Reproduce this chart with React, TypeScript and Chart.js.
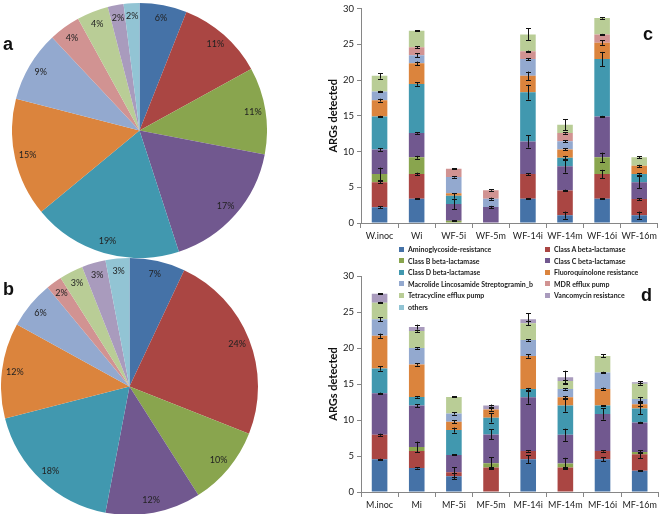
import React, { useEffect, useRef } from "react";
import { Chart, registerables } from "chart.js";

Chart.register(...registerables);
Chart.defaults.font.family = "Lato, 'Liberation Sans', sans-serif";

// ---------- shared ----------
const seriesNames = [
  "Aminoglycoside-resistance",
  "Class A beta-lactamase",
  "Class B beta-lactamase",
  "Class C beta-lactamase",
  "Class D beta-lactamase",
  "Fluoroquinolone resistance",
  "Macrolide Lincosamide Streptogramin_b",
  "MDR efflux pump",
  "Tetracycline efflux pump",
  "Vancomycin resistance",
  "others",
];
const seriesColors = [
  "#4572A7", "#AA4643", "#89A54E", "#71588F", "#4198AF", "#DB843D",
  "#93A9CF", "#D19392", "#B9CD96", "#A99BBD", "#92C4D4",
];

// ---------- pies (percent) ----------
const pieAValues = [6, 11, 11, 17, 19, 15, 9, 4, 4, 2, 2];
const pieBValues = [7, 24, 10, 12, 18, 12, 6, 2, 3, 3, 3];

// ---------- bar charts ----------
const categoriesC = ["W.inoc", "Wi", "WF-5i", "WF-5m", "WF-14i", "WF-14m", "WF-16i", "WF-16m"];
const categoriesD = ["M.inoc", "Mi", "MF-5i", "MF-5m", "MF-14i", "MF-14m", "MF-16i", "MF-16m"];
const yTicks = [0, 5, 10, 15, 20, 25, 30];

// chart c segment values
const cAmino = [2.2, 3.4, 0, 0, 3.4, 1.1, 3.4, 1.1];
const cClassA = [3.5, 3.45, 0, 0, 3.45, 3.45, 3.45, 2.25];
const cClassB = [1.15, 2.35, 0.3, 0, 0, 0, 2.35, 0];
const cClassC = [3.45, 3.4, 2.35, 2.25, 4.55, 3.4, 5.7, 2.35];
const cClassD = [4.6, 6.85, 1.15, 0, 6.9, 1.2, 8.05, 1.15];
const cFluoro = [2.3, 2.9, 0.35, 0, 2.3, 1.15, 2.3, 1.15];
const cMLS = [1.2, 1.15, 2.3, 1.15, 2.35, 1.15, 0, 0];
const cMDR = [0, 1.1, 1.15, 1.2, 1.1, 1.15, 1.15, 0];
const cTetra = [2.2, 2.3, 0, 0, 2.35, 1.15, 2.3, 1.2];
const cVanco = [0, 0, 0, 0, 0, 0, 0, 0];
const cOthers = [0, 0, 0, 0, 0, 0, 0, 0];

// chart c error bars (± at top of each segment)
const cAminoErr = [0.15, 0.08, 0, 0, 0.1, 0.5, 0.08, 0.5];
const cClassAErr = [0.15, 0.2, 0, 0, 0.12, 0.12, 0.6, 0.12];
const cClassBErr = [0.9, 0.2, 0.08, 0, 0, 0, 0.65, 0];
const cClassCErr = [0.2, 0.12, 0.7, 0.15, 0.85, 0.9, 0.1, 0.85];
const cClassDErr = [0.1, 0.25, 0.4, 0, 1.05, 0.25, 1.0, 0.1];
const cFluoroErr = [0.2, 0.25, 0, 0, 0.6, 0.15, 0.3, 0.15];
const cMLSErr = [0.1, 0.25, 0.1, 0.15, 0.15, 0.12, 0, 0];
const cMDRErr = [0, 0.15, 0.05, 0.1, 0.08, 0.1, 0.05, 0];
const cTetraErr = [0.4, 0.05, 0, 0, 0.85, 0.8, 0.1, 0.15];
const cVancoErr = [0, 0, 0, 0, 0, 0, 0, 0];
const cOthersErr = [0, 0, 0, 0, 0, 0, 0, 0];

// chart d segment values
const dAmino = [4.55, 3.35, 2.2, 0, 4.55, 0, 4.55, 2.95];
const dClassA = [3.4, 2.35, 0.55, 3.4, 1.15, 3.4, 1.15, 2.3];
const dClassB = [0, 0.55, 0, 0.6, 0, 0.55, 0, 0.3];
const dClassC = [5.75, 5.75, 2.4, 4.0, 7.45, 4.0, 5.15, 4.1];
const dClassD = [3.45, 1.2, 3.45, 2.3, 1.15, 4.05, 1.15, 1.95];
const dFluoro = [4.55, 4.5, 1.15, 1.15, 4.6, 1.15, 2.3, 0.6];
const dMLS = [2.3, 2.3, 1.15, 0, 2.2, 1.15, 2.3, 0.7];
const dMDR = [0, 0, 0, 0, 0, 0, 0, 0];
const dTetra = [2.3, 2.35, 2.3, 0, 2.35, 1.1, 2.3, 2.15];
const dVanco = [1.25, 0.55, 0, 0.55, 0.55, 0.55, 0, 0.2];
const dOthers = [0, 0, 0, 0, 0, 0, 0, 0];

// chart d error bars
const dAminoErr = [0.05, 0.1, 0.4, 0, 0.55, 0, 0.3, 0.05];
const dClassAErr = [0.15, 0, 0.7, 0.1, 0.1, 0.1, 0.1, 0.55];
const dClassBErr = [0, 0.75, 0, 0.8, 0, 0.8, 0, 0.05];
const dClassCErr = [0.1, 0.2, 0.02, 0.7, 0.9, 0.85, 0.8, 0.1];
const dClassDErr = [0.3, 0.1, 0.35, 0.65, 0.15, 0.85, 0.05, 0.8];
const dFluoroErr = [0.3, 0.15, 0.2, 0.15, 0.25, 0.15, 0.2, 0.3];
const dMLSErr = [0.25, 0.1, 0.15, 0, 0.1, 0.1, 0.1, 0.3];
const dMDRErr = [0, 0, 0, 0, 0, 0, 0, 0];
const dTetraErr = [0.1, 0.1, 0.05, 0, 0.3, 0.2, 0.2, 0.15];
const dVancoErr = [0.05, 0.35, 0, 0.15, 0.85, 0.9, 0, 0.1];
const dOthersErr = [0, 0, 0, 0, 0, 0, 0, 0];

const cSeries = [cAmino, cClassA, cClassB, cClassC, cClassD, cFluoro, cMLS, cMDR, cTetra, cVanco, cOthers];
const cErrors = [cAminoErr, cClassAErr, cClassBErr, cClassCErr, cClassDErr, cFluoroErr, cMLSErr, cMDRErr, cTetraErr, cVancoErr, cOthersErr];
const dSeries = [dAmino, dClassA, dClassB, dClassC, dClassD, dFluoro, dMLS, dMDR, dTetra, dVanco, dOthers];
const dErrors = [dAminoErr, dClassAErr, dClassBErr, dClassCErr, dClassDErr, dFluoroErr, dMLSErr, dMDRErr, dTetraErr, dVancoErr, dOthersErr];

// ---------- plugins ----------
const errorBarPlugin = {
  id: "errorBars",
  afterDatasetsDraw(chart: any) {
    const ctx = chart.ctx;
    const y = chart.scales.y;
    const unit = Math.abs(y.getPixelForValue(0) - y.getPixelForValue(1));
    ctx.save();
    ctx.strokeStyle = "#111";
    ctx.lineWidth = 1;
    chart.data.datasets.forEach((ds: any, i: number) => {
      const meta = chart.getDatasetMeta(i);
      const errs = ds.errors || [];
      meta.data.forEach((el: any, j: number) => {
        const v = ds.data[j];
        const e = errs[j];
        if (!v || !e) return;
        const px = Math.round(el.x) + 0.5;
        const py = el.y;
        const d = Math.max(e * unit, 0.5);
        const cap = 2.5;
        ctx.beginPath();
        ctx.moveTo(px, py - d);
        ctx.lineTo(px, py + d);
        ctx.moveTo(px - cap, Math.round(py - d) + 0.5);
        ctx.lineTo(px + cap, Math.round(py - d) + 0.5);
        ctx.moveTo(px - cap, Math.round(py + d) + 0.5);
        ctx.lineTo(px + cap, Math.round(py + d) + 0.5);
        ctx.stroke();
      });
    });
    ctx.restore();
  },
};

const pieLabelPlugin = {
  id: "pieLabels",
  afterDatasetsDraw(chart: any) {
    const ctx = chart.ctx;
    const ds = chart.data.datasets[0];
    const meta = chart.getDatasetMeta(0);
    ctx.save();
    ctx.font = "9px Lato, 'Liberation Sans', sans-serif";
    ctx.fillStyle = "#222";
    ctx.textAlign = "center";
    ctx.textBaseline = "middle";
    meta.data.forEach((arc: any, i: number) => {
      const { startAngle, endAngle, outerRadius, x, y } = arc.getProps(
        ["startAngle", "endAngle", "outerRadius", "x", "y"],
        true
      );
      const mid = (startAngle + endAngle) / 2;
      const r = outerRadius * 0.9;
      ctx.fillText(ds.data[i] + "%", x + Math.cos(mid) * r, y + Math.sin(mid) * r);
    });
    ctx.restore();
  },
};

// ---------- configs ----------
function pieConfig(values: number[]) {
  return {
    type: "pie",
    data: {
      labels: seriesNames,
      datasets: [
        {
          data: values,
          backgroundColor: seriesColors,
          borderWidth: 0,
          hoverOffset: 0,
        },
      ],
    },
    options: {
      responsive: false,
      animation: false,
      devicePixelRatio: 1,
      layout: { padding: 0 },
      plugins: { legend: { display: false }, tooltip: { enabled: false } },
    },
    plugins: [pieLabelPlugin],
  };
}

function barConfig(labels: string[], series: number[][], errors: number[][], padTop: number, xHeight: number) {
  return {
    type: "bar",
    data: {
      labels,
      datasets: seriesNames.map((name, i) => ({
        label: name,
        data: series[i],
        errors: errors[i],
        backgroundColor: seriesColors[i],
        borderWidth: 0,
        barPercentage: 0.42,
        categoryPercentage: 1,
      })),
    },
    options: {
      responsive: false,
      animation: false,
      devicePixelRatio: 1,
      layout: { padding: { top: padTop, right: 1, left: 0, bottom: 0 } },
      plugins: { legend: { display: false }, tooltip: { enabled: false } },
      scales: {
        x: {
          stacked: true,
          grid: {
            display: true,
            drawOnChartArea: false,
            offset: true,
            tickLength: 5,
            color: "#868686",
          },
          border: { color: "#868686" },
          ticks: {
            color: "#222",
            font: { size: 9 },
            padding: 3,
            maxRotation: 0,
            autoSkip: false,
          },
          afterFit: (s: any) => {
            s.height = xHeight;
          },
        },
        y: {
          stacked: true,
          min: 0,
          max: 30,
          afterBuildTicks: (s: any) => {
            s.ticks = yTicks.map((v) => ({ value: v }));
          },
          grid: { drawOnChartArea: false, tickLength: 4, color: "#868686" },
          border: { color: "#868686" },
          ticks: { color: "#222", font: { size: 9.5 }, padding: 3 },
          title: {
            display: true,
            text: "ARGs detected",
            color: "#111",
            font: { size: 11, weight: "bold" },
            padding: { top: 7, bottom: 2 },
          },
          afterFit: (s: any) => {
            s.width = 41;
          },
        },
      },
    },
    plugins: [errorBarPlugin],
  };
}

// ---------- components ----------
function ChartCanvas({ make, left, top, width, height }: any) {
  const ref = useRef<HTMLCanvasElement | null>(null);
  useEffect(() => {
    const chart = new Chart(ref.current as HTMLCanvasElement, make());
    return () => chart.destroy();
  }, []);
  return (
    <canvas
      ref={ref}
      width={width}
      height={height}
      style={{ position: "absolute", left, top, width, height }}
    />
  );
}

const letterStyle: any = {
  position: "absolute",
  fontFamily: "'Liberation Sans', Arial, sans-serif",
  fontWeight: "bold",
  fontSize: 18,
  lineHeight: "18px",
  color: "#111",
};

function Legend() {
  const rowH = 11.6;
  return (
    <>
      {seriesNames.map((name, i) => {
        const col = i % 2;
        const row = Math.floor(i / 2);
        return (
          <div
            key={name}
            style={{
              position: "absolute",
              left: col === 0 ? 399 : 545,
              top: 244 + row * rowH,
              height: 10,
              display: "flex",
              alignItems: "center",
              whiteSpace: "nowrap",
              fontFamily: "Lato, 'Liberation Sans', sans-serif",
              fontWeight: "bold",
              fontSize: 7,
              color: "#222",
            }}
          >
            <span
              style={{
                display: "inline-block",
                width: 5,
                height: 5,
                background: seriesColors[i],
                marginRight: 4,
              }}
            />
            {name}
          </div>
        );
      })}
    </>
  );
}

export default function App() {
  return (
    <div
      style={{
        position: "absolute",
        left: 0,
        top: 0,
        width: 660,
        height: 514,
        background: "#fff",
        overflow: "hidden",
      }}
    >
      <ChartCanvas make={() => pieConfig(pieAValues)} left={12} top={3} width={255} height={255} />
      <ChartCanvas make={() => pieConfig(pieBValues)} left={1} top={258} width={257} height={257} />
      <ChartCanvas
        make={() => barConfig(categoriesC, cSeries, cErrors, 7, 27)}
        left={320}
        top={0}
        width={340}
        height={250}
      />
      <ChartCanvas
        make={() => barConfig(categoriesD, dSeries, dErrors, 36, 22)}
        left={320}
        top={240}
        width={340}
        height={274}
      />
      <Legend />
      <div style={{ ...letterStyle, left: 3, top: 35 }}>a</div>
      <div style={{ ...letterStyle, left: 3, top: 280 }}>b</div>
      <div style={{ ...letterStyle, left: 643, top: 25 }}>c</div>
      <div style={{ ...letterStyle, left: 641, top: 286 }}>d</div>
    </div>
  );
}
